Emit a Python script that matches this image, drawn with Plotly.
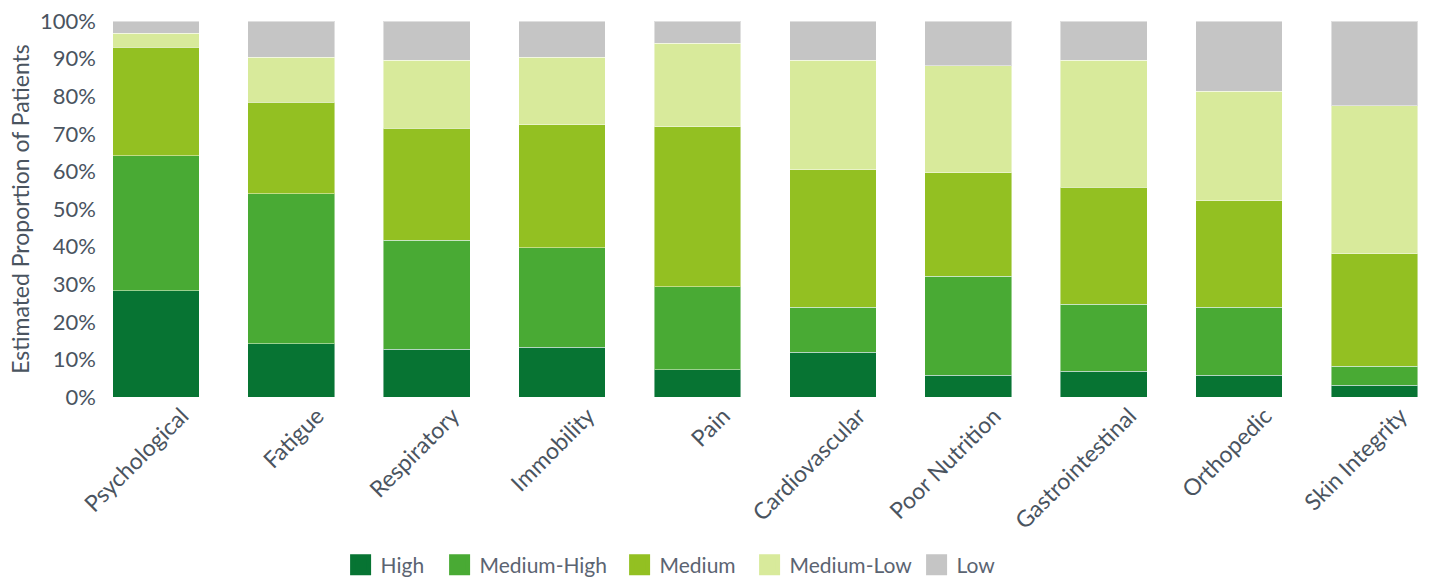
import plotly.graph_objects as go

# Complication categories along the x axis
categories = ["Psychological", "Fatigue", "Respiratory", "Immobility", "Pain",
              "Cardiovascular", "Poor Nutrition", "Gastrointestinal",
              "Orthopedic", "Skin Integrity"]

# Estimated share of patients (%) in each risk level, per category
high        = [28.3, 14.1, 12.7, 13.2,  7.3, 11.9,  5.8,  6.8,  5.8,  3.1]
medium_high = [35.9, 40.0, 29.0, 26.5, 22.0, 12.0, 26.3, 17.9, 18.1,  5.1]
medium      = [28.8, 24.3, 29.8, 32.7, 42.6, 36.5, 27.5, 31.1, 28.3, 29.9]
medium_low  = [ 3.8, 12.0, 18.0, 18.0, 22.2, 29.1, 28.5, 33.7, 29.1, 39.4]
low         = [ 3.2,  9.6, 10.5,  9.6,  5.9, 10.5, 11.9, 10.5, 18.7, 22.5]

series_names = ["High", "Medium-High", "Medium", "Medium-Low", "Low"]
series_values = [high, medium_high, medium, medium_low, low]
series_colors = ["#077433", "#49aa34", "#93c022", "#d8ea9b", "#c5c5c5"]

# left edge (px) of each legend entry along the bottom row
legend_left_px = [340.6, 439.6, 619.6, 749.6, 916.6]

W, H = 1429, 577
FONT = "Lato, 'Open Sans', sans-serif"
TEXT = "#4a545f"

fig = go.Figure()
legend_layouts = {}

for i, (name, vals, color) in enumerate(zip(series_names, series_values, series_colors)):
    fig.add_trace(go.Bar(
        x=categories, y=vals, name=name,
        marker=dict(color=color, line=dict(color="rgba(255,255,255,0.45)", width=1)),
        showlegend=False,
        hovertemplate="%{x}<br>" + name + ": %{y:.1f}%<extra></extra>",
    ))
    key = "legend" if i == 0 else f"legend{i + 1}"
    # square legend swatch, one legend per entry so the row spacing can be set
    fig.add_trace(go.Scatter(
        x=[None], y=[None], mode="markers", name=name,
        marker=dict(symbol="square", size=16, color=color,
                    line=dict(color=color, width=5)),
        showlegend=True, legend=key,
    ))
    legend_layouts[key] = dict(
        orientation="h",
        xref="container", yref="container",
        x=legend_left_px[i] / W, xanchor="left",
        y=1 - 565 / H, yanchor="middle",
        font=dict(family=FONT, size=21, color="#5b6472"),
        itemsizing="trace",
        bgcolor="rgba(0,0,0,0)",
    )

fig.update_layout(
    width=W, height=H,
    margin=dict(l=101, r=3, t=21, b=180),
    barmode="stack",
    bargap=0.36,
    plot_bgcolor="white",
    paper_bgcolor="white",
    font=dict(family=FONT, size=22, color=TEXT),
    **legend_layouts,
)

fig.update_xaxes(
    range=[-0.405, 9.38],
    tickangle=-45,
    ticklabelshift=26,
    tickfont=dict(family=FONT, size=23, color=TEXT),
    showgrid=False, showline=False, zeroline=False,
    ticks="",
)

fig.update_yaxes(
    range=[0, 100],
    dtick=10,
    ticksuffix="%",
    ticklabelstandoff=4,
    tickfont=dict(family=FONT, size=22, color=TEXT),
    showgrid=False, showline=False, zeroline=False,
    ticks="",
    title=dict(text="Estimated Proportion of Patients",
               font=dict(family=FONT, size=23, color=TEXT), standoff=4),
)

fig.write_html("out.html")
